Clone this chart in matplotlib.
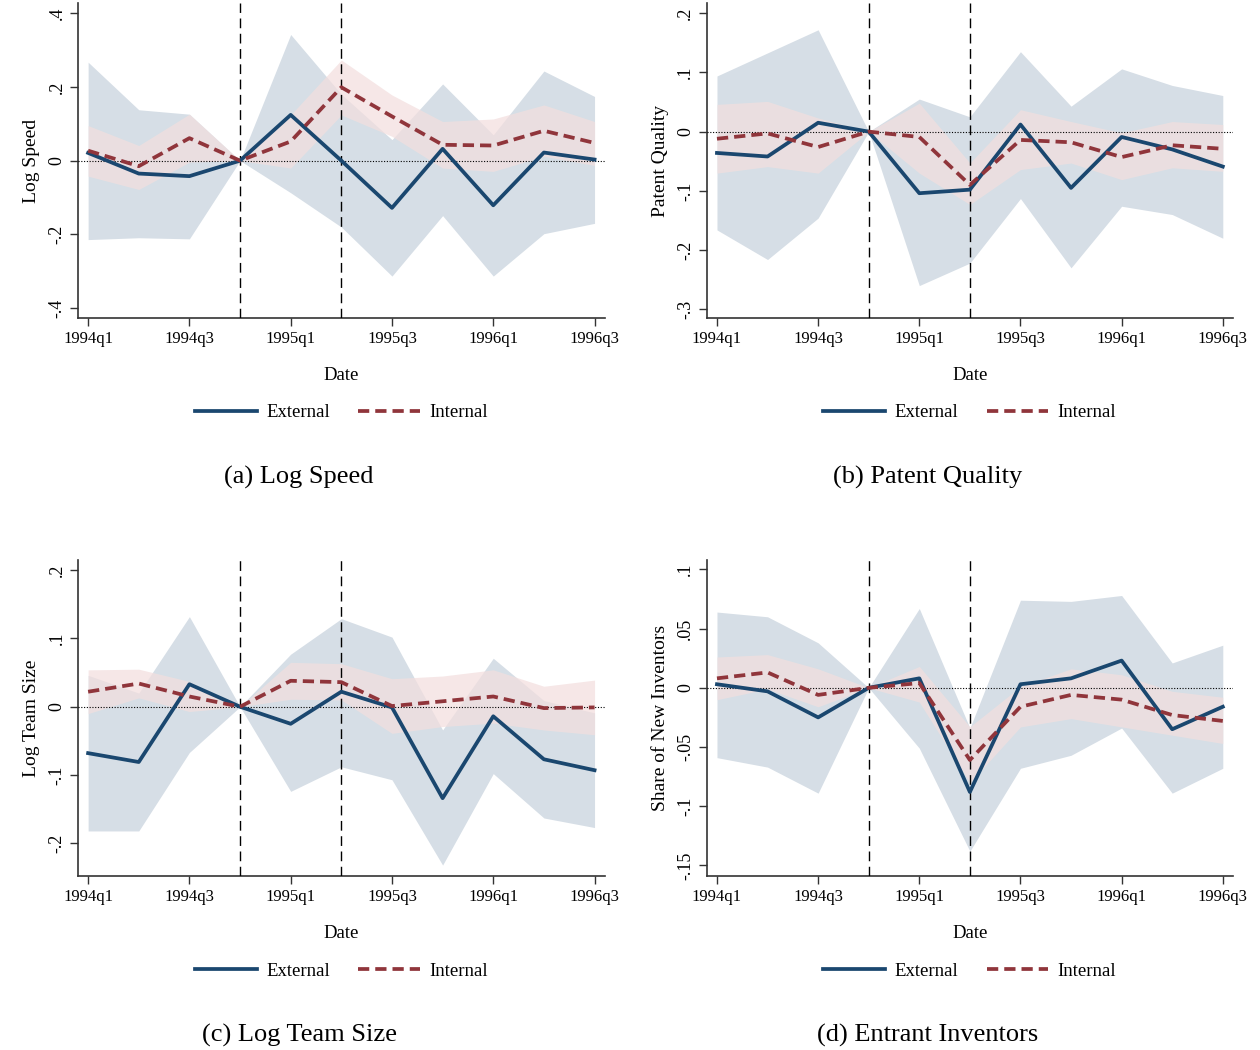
import numpy as np
import matplotlib
matplotlib.use("Agg")
import matplotlib.pyplot as plt

plt.rcParams['font.family'] = ['Liberation Serif', 'DejaVu Serif']

# quarters 1994q1 .. 1996q3
quarters = ["1994q1", "1994q2", "1994q3", "1994q4", "1995q1", "1995q2",
            "1995q3", "1995q4", "1996q1", "1996q2", "1996q3"]
tick_labels = ["1994q1", "1994q3", "1995q1", "1995q3", "1996q1", "1996q3"]
event_quarters = ["1994q4", "1995q2"]

# (a) Log Speed
speed_ext = [0.021, -0.035, -0.042, 0.0, 0.124, 0.0, -0.128, 0.032, -0.121, 0.022, 0.003]
speed_ext_hi = [0.267, 0.138, 0.126, 0.0, 0.342, 0.18, 0.057, 0.208, 0.07, 0.243, 0.174]
speed_ext_lo = [-0.214, -0.209, -0.212, 0.0, -0.087, -0.18, -0.313, -0.149, -0.313, -0.198, -0.17]
speed_int = [0.027, -0.015, 0.061, 0.0, 0.052, 0.199, 0.12, 0.043, 0.041, 0.081, 0.048]
speed_int_hi = [0.095, 0.041, 0.126, 0.0, 0.124, 0.273, 0.178, 0.106, 0.113, 0.151, 0.106]
speed_int_lo = [-0.042, -0.078, -0.004, 0.0, -0.02, 0.124, 0.066, -0.02, -0.029, 0.012, -0.013]

# (b) Patent Quality
qual_ext = [-0.036, -0.042, 0.015, 0.0, -0.104, -0.098, 0.012, -0.095, -0.009, -0.030, -0.059]
qual_ext_hi = [0.094, 0.133, 0.172, 0.0, 0.055, 0.025, 0.135, 0.043, 0.106, 0.078, 0.061]
qual_ext_lo = [-0.166, -0.216, -0.146, 0.0, -0.260, -0.222, -0.113, -0.230, -0.126, -0.140, -0.180]
qual_int = [-0.012, -0.003, -0.026, 0.0, -0.009, -0.090, -0.014, -0.018, -0.043, -0.023, -0.029]
qual_int_hi = [0.046, 0.051, 0.023, 0.0, 0.048, -0.053, 0.037, 0.017, -0.002, 0.017, 0.012]
qual_int_lo = [-0.070, -0.059, -0.070, 0.0, -0.070, -0.123, -0.064, -0.053, -0.081, -0.061, -0.067]

# (c) Log Team Size
team_ext = [-0.068, -0.081, 0.033, 0.0, -0.025, 0.022, -0.001, -0.134, -0.014, -0.077, -0.093]
team_ext_hi = [0.046, 0.02, 0.132, 0.0, 0.077, 0.129, 0.102, -0.034, 0.071, 0.009, -0.009]
team_ext_lo = [-0.182, -0.182, -0.067, 0.0, -0.124, -0.088, -0.107, -0.232, -0.098, -0.163, -0.177]
team_int = [0.022, 0.034, 0.015, 0.0, 0.038, 0.036, 0.001, 0.008, 0.015, -0.002, -0.001]
team_int_hi = [0.054, 0.055, 0.037, 0.0, 0.065, 0.063, 0.041, 0.045, 0.054, 0.030, 0.039]
team_int_lo = [-0.010, 0.013, -0.007, 0.0, 0.011, 0.010, -0.039, -0.029, -0.024, -0.034, -0.041]

# (d) Entrant Inventors
new_ext = [0.003, -0.003, -0.025, 0.0, 0.008, -0.088, 0.003, 0.008, 0.023, -0.035, -0.016]
new_ext_hi = [0.064, 0.060, 0.038, 0.0, 0.067, -0.034, 0.074, 0.073, 0.078, 0.021, 0.036]
new_ext_lo = [-0.059, -0.067, -0.089, 0.0, -0.051, -0.138, -0.068, -0.057, -0.034, -0.089, -0.068]
new_int = [0.008, 0.013, -0.006, 0.0, 0.004, -0.061, -0.016, -0.006, -0.010, -0.023, -0.028]
new_int_hi = [0.026, 0.028, 0.016, 0.0, 0.018, -0.033, 0.001, 0.016, 0.011, -0.003, -0.008]
new_int_lo = [-0.010, -0.001, -0.016, 0.0, -0.012, -0.080, -0.033, -0.026, -0.033, -0.040, -0.047]

navy = "#1a476f"
maroon = "#90353b"

x = np.arange(len(quarters))
tick_pos = [quarters.index(q) for q in tick_labels]
event_pos = [quarters.index(q) for q in event_quarters]

fig = plt.figure(figsize=(12.6, 10.5), dpi=100)

panels = [
    # rect, ylabel, caption, yticks, yticklabels, ylim, data
    ([0.0619, 0.697, 0.418, 0.300], "Log Speed", "(a) Log Speed",
     [-0.4, -0.2, 0, 0.2, 0.4], ["-.4", "-.2", "0", ".2", ".4"], (-0.427, 0.427),
     (speed_ext, speed_ext_lo, speed_ext_hi, speed_int, speed_int_lo, speed_int_hi)),
    ([0.561, 0.697, 0.4175, 0.300], "Patent Quality", "(b) Patent Quality",
     [-0.3, -0.2, -0.1, 0, 0.1, 0.2], ["-.3", "-.2", "-.1", "0", ".1", ".2"], (-0.315, 0.217),
     (qual_ext, qual_ext_lo, qual_ext_hi, qual_int, qual_int_lo, qual_int_hi)),
    ([0.0619, 0.1657, 0.418, 0.301], "Log Team Size", "(c) Log Team Size",
     [-0.2, -0.1, 0, 0.1, 0.2], ["-.2", "-.1", "0", ".1", ".2"], (-0.248, 0.215),
     (team_ext, team_ext_lo, team_ext_hi, team_int, team_int_lo, team_int_hi)),
    ([0.561, 0.1657, 0.4175, 0.301], "Share of New Inventors", "(d) Entrant Inventors",
     [-0.15, -0.1, -0.05, 0, 0.05, 0.1], ["-.15", "-.1", "-.05", "0", ".05", ".1"], (-0.159, 0.108),
     (new_ext, new_ext_lo, new_ext_hi, new_int, new_int_lo, new_int_hi)),
]

for rect, ylab, cap, yt, ytl, ylim, d in panels:
    ext, ext_lo, ext_hi, inn, inn_lo, inn_hi = d
    ax = fig.add_axes(rect)
    ax.fill_between(x, ext_lo, ext_hi, color="#d6dee6", lw=0, zorder=1)
    ax.fill_between(x, inn_lo, inn_hi, color="#f3dede", alpha=0.72, lw=0, zorder=2)
    ax.axhline(0, color="black", lw=0.8, ls=(0, (1, 1.5)), zorder=3)
    for e in event_pos:
        ax.axvline(e, color="black", lw=1.0, ls=(0, (7, 4)), zorder=3)
    l1, = ax.plot(x, ext, color=navy, lw=2.7, zorder=4, label="External")
    l2, = ax.plot(x, inn, color=maroon, lw=2.7, ls=(0, (3, 1.6)), zorder=5, label="Internal")

    ax.set_xlim(-0.2, len(quarters) - 1 + 0.2)
    ax.set_ylim(*ylim)
    ax.set_xticks(tick_pos)
    ax.set_xticklabels(tick_labels, fontsize=12)
    ax.set_yticks(yt)
    ax.set_yticklabels(ytl, fontsize=13, rotation=90, va="center")
    ax.set_ylabel(ylab, fontsize=14, labelpad=6)
    ax.set_xlabel("Date", fontsize=13.5, labelpad=15)
    for s in ["top", "right"]:
        ax.spines[s].set_visible(False)
    for s in ["left", "bottom"]:
        ax.spines[s].set_color("#333333")
        ax.spines[s].set_linewidth(1.2)
    ax.tick_params(direction="out", length=6, width=1, color="#333333", pad=3)

    ax.legend(handles=[l1, l2], loc="upper center", bbox_to_anchor=(0.5, -0.22),
              ncol=2, frameon=False, fontsize=13.5, handlelength=3.3,
              columnspacing=1.5, handletextpad=0.5)
    ax.text(0.42, -0.505, cap, transform=ax.transAxes, ha="center", va="center", fontsize=19)

fig.savefig("out.png", dpi=100)
